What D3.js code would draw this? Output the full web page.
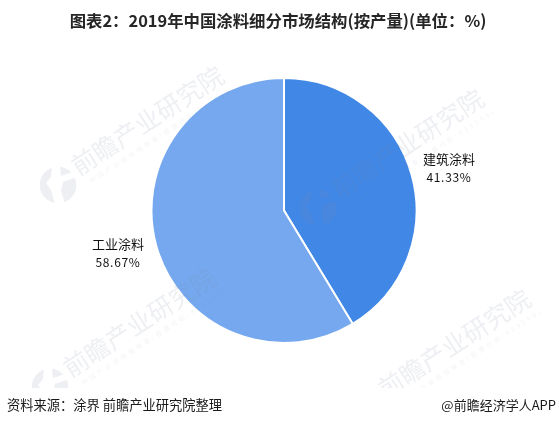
<!DOCTYPE html>
<html><head><meta charset="utf-8">
<script src="https://cdn.jsdelivr.net/npm/d3@7/dist/d3.min.js"></script>
<style>html,body{margin:0;padding:0;background:#fff}svg{display:block}</style></head>
<body><svg id="c" width="559" height="426"></svg>
<script>
const categories = ["建筑涂料","工业涂料"];
const shares = [41.33,58.67];
const colors = ["#4087E6","#75A8EE"];
const titleText = "图表2：2019年中国涂料细分市场结构(按产量)(单位：%)";
const sourceText = "资料来源：涂界 前瞻产业研究院整理";
const creditText = "@前瞻经济学人APP";
const markMain = "前瞻产业研究院";
const markSub = "中国产业咨询领导者(股票代码:839599)";
const markAnchors = [[58,185],[318,208],[50,387],[365,408]];
const labelAnchors = [[449,164],[118,249]];

const cjk = "'Noto Sans CJK SC','Liberation Sans',sans-serif";
const svg = d3.select("#c");
const defs = svg.append("defs");
defs.append("clipPath").attr("id","wm").append("rect").attr("width",559).attr("height",388);
const mask = defs.append("mask").attr("id","logo").attr("maskUnits","userSpaceOnUse")
  .attr("x",-25).attr("y",-25).attr("width",50).attr("height",50);
mask.append("circle").attr("r",18.5).attr("fill","#fff");
mask.append("path").attr("d","M-6 -19L2 -19L3 -9L15 -13L19 -8L5 -3L3 6L7 19L-3 19L-7 5L-12 -2L-7 -8Z").attr("fill","#000");

const g = svg.append("g").attr("transform","translate(284,210.5)");
const pie = d3.pie().sort(null).value(d=>d);
const arc = d3.arc().innerRadius(0).outerRadius(132.5);
g.selectAll("path").data(pie(shares)).join("path")
  .attr("d",arc).attr("fill",(d,i)=>colors[i]).attr("stroke","#fff").attr("stroke-width",2);

const wm = svg.append("g").attr("clip-path","url(#wm)").attr("fill","#7F8DA6").attr("opacity",0.14);
markAnchors.forEach(([x,y])=>{
  wm.append("g").attr("transform",`translate(${x},${y})`)
    .append("circle").attr("r",18.5).attr("mask","url(#logo)");
  const m = wm.append("g").attr("transform",`translate(${x},${y}) rotate(-33)`);
  m.append("text").attr("x",22).attr("y",4).attr("font-family",cjk).attr("font-weight",400).attr("font-size",25)
    .attr("textLength",176).text(markMain);
  m.append("text").attr("x",29).attr("y",17).attr("font-family",cjk).attr("font-size",6.5).attr("fill-opacity",0.7)
    .attr("textLength",170).text(markSub);
});

svg.append("text").attr("x",278).attr("y",27).attr("text-anchor","middle")
  .attr("font-family",cjk).attr("font-weight",700).attr("font-size",16.4).attr("fill","#262626").text(titleText);

categories.forEach((c,i)=>{
  const [x,y]=labelAnchors[i];
  const t = svg.append("g").attr("fill","#111").attr("text-anchor","middle");
  t.append("text").attr("x",x).attr("y",y).attr("font-family",cjk).attr("font-size",13).text(c);
  t.append("text").attr("x",x).attr("y",y+17.5).attr("font-family",cjk).attr("font-size",12).attr("letter-spacing",0.7).text(shares[i].toFixed(2)+"%");
});

svg.append("text").attr("x",7).attr("y",410).attr("font-family",cjk).attr("font-size",13.25).attr("fill","#1a1a1a").text(sourceText);
svg.append("text").attr("x",556).attr("y",410).attr("text-anchor","end").attr("font-family",cjk).attr("font-size",13).attr("fill","#1a1a1a").text(creditText);
</script></body></html>
